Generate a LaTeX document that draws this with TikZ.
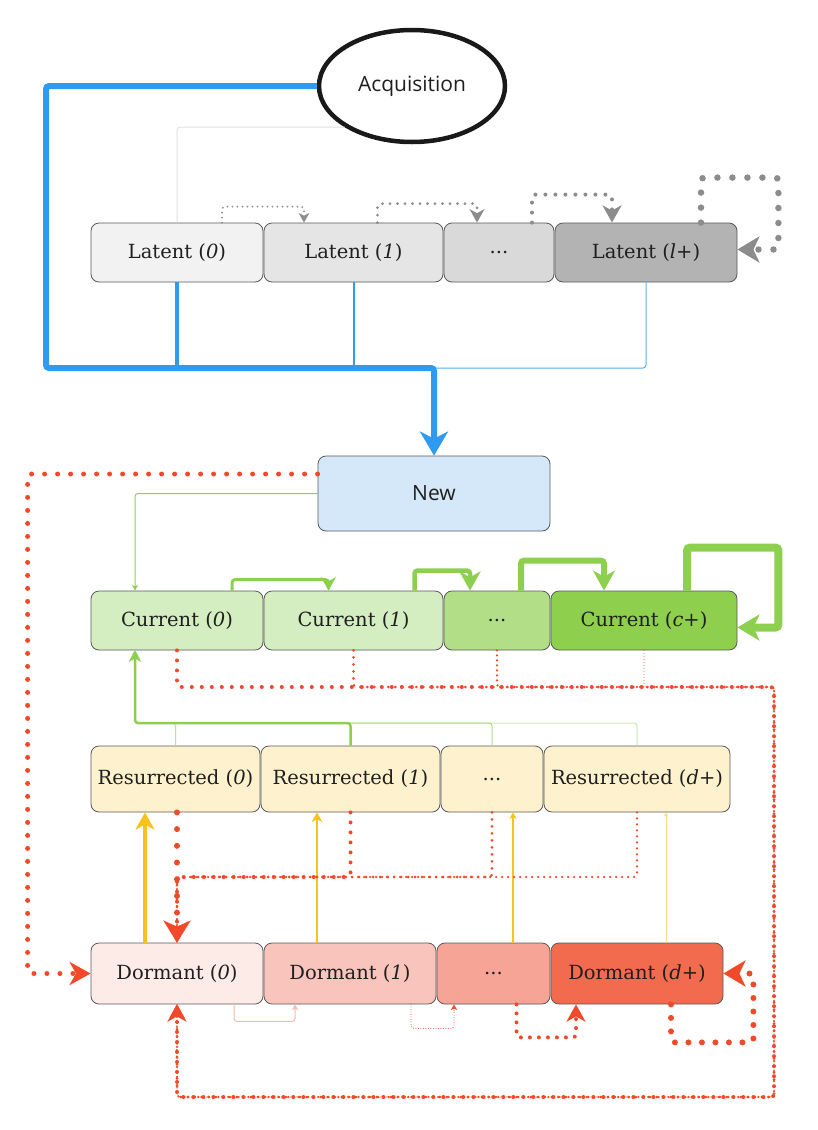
\documentclass[tikz,border=0pt]{standalone}
\usepackage{fontspec}
\setmainfont{DejaVu Serif}
\newfontfamily\sansfont{Open Sans}
\usetikzlibrary{shapes.geometric,arrows.meta,calc}

\definecolor{acqblue}{HTML}{2E9BF0}
\definecolor{latgray}{HTML}{8C8C8C}
\definecolor{curgreen}{HTML}{8DCF4F}
\definecolor{resyellow}{HTML}{F7C31A}
\definecolor{dorred}{HTML}{F04A2A}
\definecolor{latfill0}{HTML}{F2F2F2}
\definecolor{latfill1}{HTML}{E5E5E5}
\definecolor{latfilld}{HTML}{D9D9D9}
\definecolor{latfillp}{HTML}{B3B3B3}
\definecolor{newfill}{HTML}{D4E8F9}
\definecolor{curfill0}{HTML}{D4EDC1}
\definecolor{curfilld}{HTML}{B1DE86}
\definecolor{curfillp}{HTML}{8ECF4E}
\definecolor{resfill}{HTML}{FEF2CE}
\definecolor{dorfill0}{HTML}{FDEBE8}
\definecolor{dorfill1}{HTML}{F8C4BB}
\definecolor{dorfilld}{HTML}{F5A495}
\definecolor{dorfillp}{HTML}{F26B4F}

\begin{document}
\begin{tikzpicture}[x=1pt, y=-1pt,
    stage/.style={rectangle, rounded corners=8pt, draw=black!65, line width=0.8pt, inner sep=0pt, text=black!88, font=\fontsize{19.5}{24}\selectfont},
    link/.style={rounded corners=3pt},
    dotline/.style 2 args={line width=#1, line cap=round, dash pattern=on 0pt off #2},
    bigtip/.style={-{Stealth[length=22pt, width=26pt, inset=6pt]}},
    >={Stealth[length=2pt 3.8, width'=0pt 1.1, inset'=0pt 0.3]}]
    \useasboundingbox (0,0) rectangle (818,1130);

    % Acquisition
    \node[ellipse, draw=black!90, line width=4.5pt, minimum width=186pt, minimum height=112pt, inner sep=0pt, text=black!88, font=\sansfont\fontsize{21}{25}\selectfont] (acq) at (412,86) {Acquisition};

    % Latent
    \node[stage, fill=latfill0, minimum width=172pt, minimum height=59pt] (lat0) at (177,252.5) {Latent (\textit{0})};
    \node[stage, fill=latfill1, minimum width=179pt, minimum height=59pt] (lat1) at (353.5,252.5) {Latent (\textit{1})};
    \node[stage, fill=latfilld, minimum width=110pt, minimum height=59pt] (latd) at (499,252.5) {...};
    \node[stage, fill=latfillp, minimum width=182pt, minimum height=59pt] (latp) at (646,252.5) {Latent (\textit{l+})};

    % New
    \node[stage, fill=newfill, minimum width=232pt, minimum height=75pt, font=\sansfont\fontsize{21}{25}\selectfont] (new) at (434,493.5) {New};

    % Current
    \node[stage, fill=curfill0, minimum width=172pt, minimum height=59pt] (cur0) at (177,620.5) {Current (\textit{0})};
    \node[stage, fill=curfill0, minimum width=179pt, minimum height=59pt] (cur1) at (353.5,620.5) {Current (\textit{1})};
    \node[stage, fill=curfilld, minimum width=106pt, minimum height=59pt] (curd) at (497,620.5) {...};
    \node[stage, fill=curfillp, minimum width=186pt, minimum height=59pt] (curp) at (644,620.5) {Current (\textit{c+})};

    % Resurrected
    \node[stage, fill=resfill, minimum width=169pt, minimum height=66pt] (res0) at (175.5,779) {Resurrected (\textit{0})};
    \node[stage, fill=resfill, minimum width=179pt, minimum height=66pt] (res1) at (350.5,779) {Resurrected (\textit{1})};
    \node[stage, fill=resfill, minimum width=102pt, minimum height=66pt] (resd) at (492,779) {...};
    \node[stage, fill=resfill, minimum width=186pt, minimum height=66pt] (resp) at (637,779) {Resurrected (\textit{d+})};

    % Dormant
    \node[stage, fill=dorfill0, minimum width=172pt, minimum height=61pt] (dor0) at (177,973.5) {Dormant (\textit{0})};
    \node[stage, fill=dorfill1, minimum width=172pt, minimum height=61pt] (dor1) at (350,973.5) {Dormant (\textit{1})};
    \node[stage, fill=dorfilld, minimum width=113pt, minimum height=61pt] (dord) at (493.5,973.5) {...};
    \node[stage, fill=dorfillp, minimum width=172pt, minimum height=61pt] (dorp) at (637,973.5) {Dormant (\textit{d+})};

    \coordinate (bus) at (46,368);
    \coordinate (gbus) at (135,723);
    \coordinate (rbus) at (177,877);
    \coordinate (rloop) at (774,687);
    \coordinate (rfloor) at (774,1097);

    % acquisition into new
    \draw[link, black!12, line width=1pt] (lat0.north) |- (acq.south west);
    \draw[link, acqblue!80, line width=1pt] (latp.south) |- (new.north |- bus);
    \draw[acqblue, line width=2pt] (lat1.south) -- (lat1.south |- bus);
    \draw[acqblue, line width=4pt] (lat0.south) -- (lat0.south |- bus);
    \draw[link, acqblue, line width=6pt, -{Stealth[length=24pt, width=28pt, inset=7pt]}] (acq.west) -| (bus) -| (new.north);

    % latent ageing
    \draw[link, latgray, dotline={2pt}{5pt}, ->] ([xshift=45pt]lat0.north) -- ++(0,-16) -| ([xshift=-49.5pt]lat1.north);
    \draw[link, latgray, dotline={3pt}{7.5pt}, ->] ([xshift=24pt]lat1.north) -- ++(0,-19) -| ([xshift=-22pt]latd.north);
    \draw[link, latgray, dotline={4pt}{10pt}, ->] ([xshift=33pt]latd.north) -- ++(0,-28) -| ([xshift=-34pt]latp.north);
    \draw[link, latgray, dotline={6.5pt}{15pt}, bigtip] ([xshift=55pt]latp.north) -- ++(0,-45) -| ([xshift=41pt,yshift=3pt]latp.east) -- ([yshift=3pt]latp.east);

    % new
    \draw[link, dorred, dotline={5pt}{13pt}, ->] ([yshift=19.5pt]new.west) -- ++(-290,0) |- (dor0.west);
    \draw[link, curgreen, line width=1pt, ->] (new.west) -| ([xshift=-42pt]cur0.north);

    % current ageing
    \draw[link, curgreen, line width=3pt, ->] ([xshift=55pt]cur0.north) -- ++(0,-11) -| ([xshift=-25pt]cur1.north);
    \draw[link, curgreen, line width=4.5pt, ->] ([xshift=61pt]cur1.north) -- ++(0,-20) -| ([xshift=-27pt]curd.north);
    \draw[link, curgreen, line width=6pt, -{Stealth[length=20pt, width=22pt, inset=6pt]}] ([xshift=24pt]curd.north) -- ++(0,-30) -| ([xshift=-40pt]curp.north);
    \draw[link, curgreen, line width=8pt, bigtip] ([xshift=43pt]curp.north) -- ++(0,-43) -| ([xshift=41pt,yshift=-7pt]curp.east) -- ([yshift=-7pt]curp.east);

    % current to dormant
    \draw[link, dorred, dotline={1pt}{3pt}, ->] (curp.south) |- (rloop) -- (rfloor) -| (dor0.south);
    \draw[link, dorred, dotline={2.5pt}{5pt}, ->] (curd.south) |- (rloop) -- (rfloor) -| (dor0.south);
    \draw[link, dorred, dotline={3pt}{7pt}, ->] (cur1.south) |- (rloop) -- (rfloor) -| (dor0.south);
    \draw[link, dorred, dotline={4pt}{10pt}, ->] (cur0.south) |- (rloop) -- (rfloor) -| (dor0.south);

    % resurrected to current
    \draw[link, curgreen!45, line width=1pt, ->] (resp.north) |- (gbus) -- ([xshift=-42pt]cur0.south);
    \draw[link, curgreen!70, line width=1pt, ->] (resd.north) |- (gbus) -- ([xshift=-42pt]cur0.south);
    \draw[link, curgreen!60, line width=1pt, ->] (res0.north) |- (gbus) -- ([xshift=-42pt]cur0.south);
    \draw[link, curgreen, line width=2.5pt, ->] (res1.north) |- (gbus) -- ([xshift=-42pt]cur0.south);

    % dormant to resurrected
    \draw[resyellow!55, line width=0.6pt, ->] ([xshift=29pt]dorp.north) -- ([xshift=29pt]dorp.north |- resp.south);
    \draw[resyellow, line width=1.2pt, ->] ([xshift=19.5pt]dord.north) -- ([xshift=19.5pt]dord.north |- resd.south);
    \draw[resyellow, line width=2pt, ->] ([xshift=-33pt]dor1.north) -- ([xshift=-33pt]dor1.north |- res1.south);
    \draw[resyellow, line width=4pt, ->] ([xshift=-32pt]dor0.north) -- ([xshift=-32pt]dor0.north |- res0.south);

    % resurrected back to dormant
    \draw[link, dorred, dotline={2.5pt}{6pt}, ->] (resp.south) |- (rbus) -- (dor0.north);
    \draw[link, dorred, dotline={3pt}{7pt}, ->] (resd.south) |- (rbus) -- (dor0.north);
    \draw[link, dorred, dotline={4pt}{10pt}, ->] (res1.south) |- (rbus) -- (dor0.north);
    \draw[dorred, dotline={6pt}{16.7pt}, -{Stealth[length=22pt, width=27pt, inset=6pt]}] (dor0.north |- res0.south) -- (dor0.north);

    % dormant ageing
    \draw[link, dorfill1!90!dorred, line width=1pt, ->] ([xshift=57pt]dor0.south) -- ++(0,17) -| ([xshift=-55pt]dor1.south);
    \draw[link, dorred, dotline={1pt}{2.5pt}, ->] ([xshift=61pt]dor1.south) -- ++(0,24) -| ([xshift=-39.5pt]dord.south);
    \draw[link, dorred, dotline={4pt}{9pt}, ->] ([xshift=23pt]dord.south) -- ++(0,33) -| ([xshift=-61pt]dorp.south);
    \draw[link, dorred, dotline={6pt}{13.5pt}, bigtip] ([xshift=34pt]dorp.south) -- ++(0,38) -| ([xshift=30pt]dorp.east) -- (dorp.east);
\end{tikzpicture}
\end{document}
